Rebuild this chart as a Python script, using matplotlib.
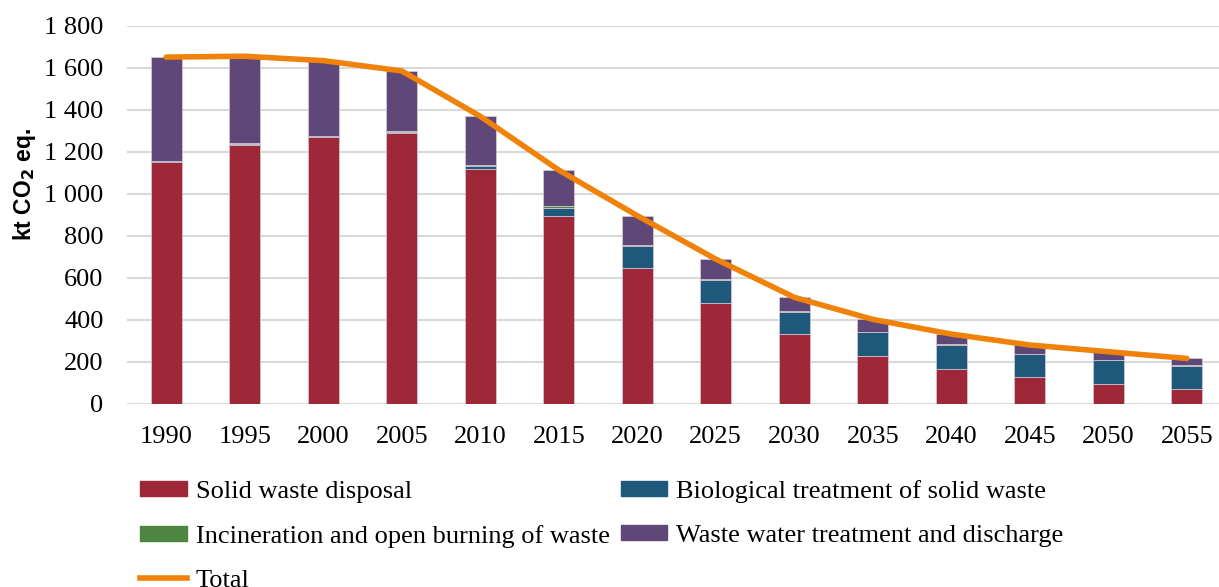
import matplotlib.pyplot as plt
import numpy as np
from matplotlib.lines import Line2D
from matplotlib.patches import Patch

years = ['1990', '1995', '2000', '2005', '2010', '2015', '2020',
         '2025', '2030', '2035', '2040', '2045', '2050', '2055']

solid_waste = [1154, 1235, 1273, 1292, 1121, 895, 649, 481, 333, 230, 168, 127, 95, 71]
biological = [1, 1, 2, 4, 12, 40, 103, 110, 106, 112, 114, 110, 114, 112]
incineration = [2, 5, 3, 4, 5, 8, 4, 3, 2, 2, 2, 2, 2, 2]
waste_water = [495, 415, 357, 286, 232, 171, 141, 96, 67, 59, 49, 42, 38, 32]

labels = ['Solid waste disposal', 'Biological treatment of solid waste',
          'Incineration and open burning of waste', 'Waste water treatment and discharge']
colors = ['#9E2837', '#1E587B', '#4C8540', '#5F4877']
orange = '#F0820A'

series = [solid_waste, biological, incineration, waste_water]
total = np.sum(series, axis=0)

fig = plt.figure(figsize=(12.19, 5.87), dpi=100)
W, H = 1219, 587
ax = fig.add_axes([127 / W, (H - 404) / H, (1226 - 127) / W, (404 - 26) / H])

x = np.arange(len(years))
bottom = np.zeros(len(years))
for vals, col, lab in zip(series, colors, labels):
    ax.bar(x, vals, 0.395, bottom=bottom, color=col, edgecolor='#D8CCDA',
           linewidth=0.5, label=lab, zorder=2)
    bottom += vals

ax.plot(x, total, color=orange, lw=4, solid_capstyle='round', zorder=3, label='Total')

ax.set_xlim(-0.5, len(years) - 0.5)
ax.set_ylim(0, 1800)
ax.set_yticks(np.arange(0, 1801, 200))
ax.set_yticklabels([f'{v:,}'.replace(',', ' ') for v in range(0, 1801, 200)])
ax.set_xticks(x)
ax.set_xticklabels(years)
ax.grid(axis='y', color='#D9D9D9', lw=1.5, zorder=0)
ax.set_axisbelow(True)
for s in ax.spines.values():
    s.set_visible(False)
ax.tick_params(axis='both', length=0, labelsize=19, labelfontfamily='Liberation Serif')
ax.tick_params(axis='y', pad=17)
ax.tick_params(axis='x', pad=16)
ax.set_ylabel(r'kt CO$_\mathbf{2}$ eq.', fontsize=16.5, fontweight='bold',
              family='Liberation Sans')
ax.yaxis.set_label_coords(-0.081, 0.58)

# legend laid out row by row: two bars per row, then the line
handles = [Patch(color=c) for c in colors] + [Line2D([], [], color=orange, lw=4)]
order = [0, 2, 4, 1, 3]
leg_labels = labels + ['Total']
fig.legend([handles[i] for i in order], [leg_labels[i] for i in order],
           loc='upper left', bbox_to_anchor=(140 / W, 1 - 480 / H), ncol=2,
           frameon=False, prop={'family': 'Liberation Serif', 'size': 19},
           handlelength=1.78, handleheight=0.5, handletextpad=0.34,
           columnspacing=0.4, labelspacing=0.83, borderaxespad=0, borderpad=0)

fig.savefig('out.png', dpi=100)
